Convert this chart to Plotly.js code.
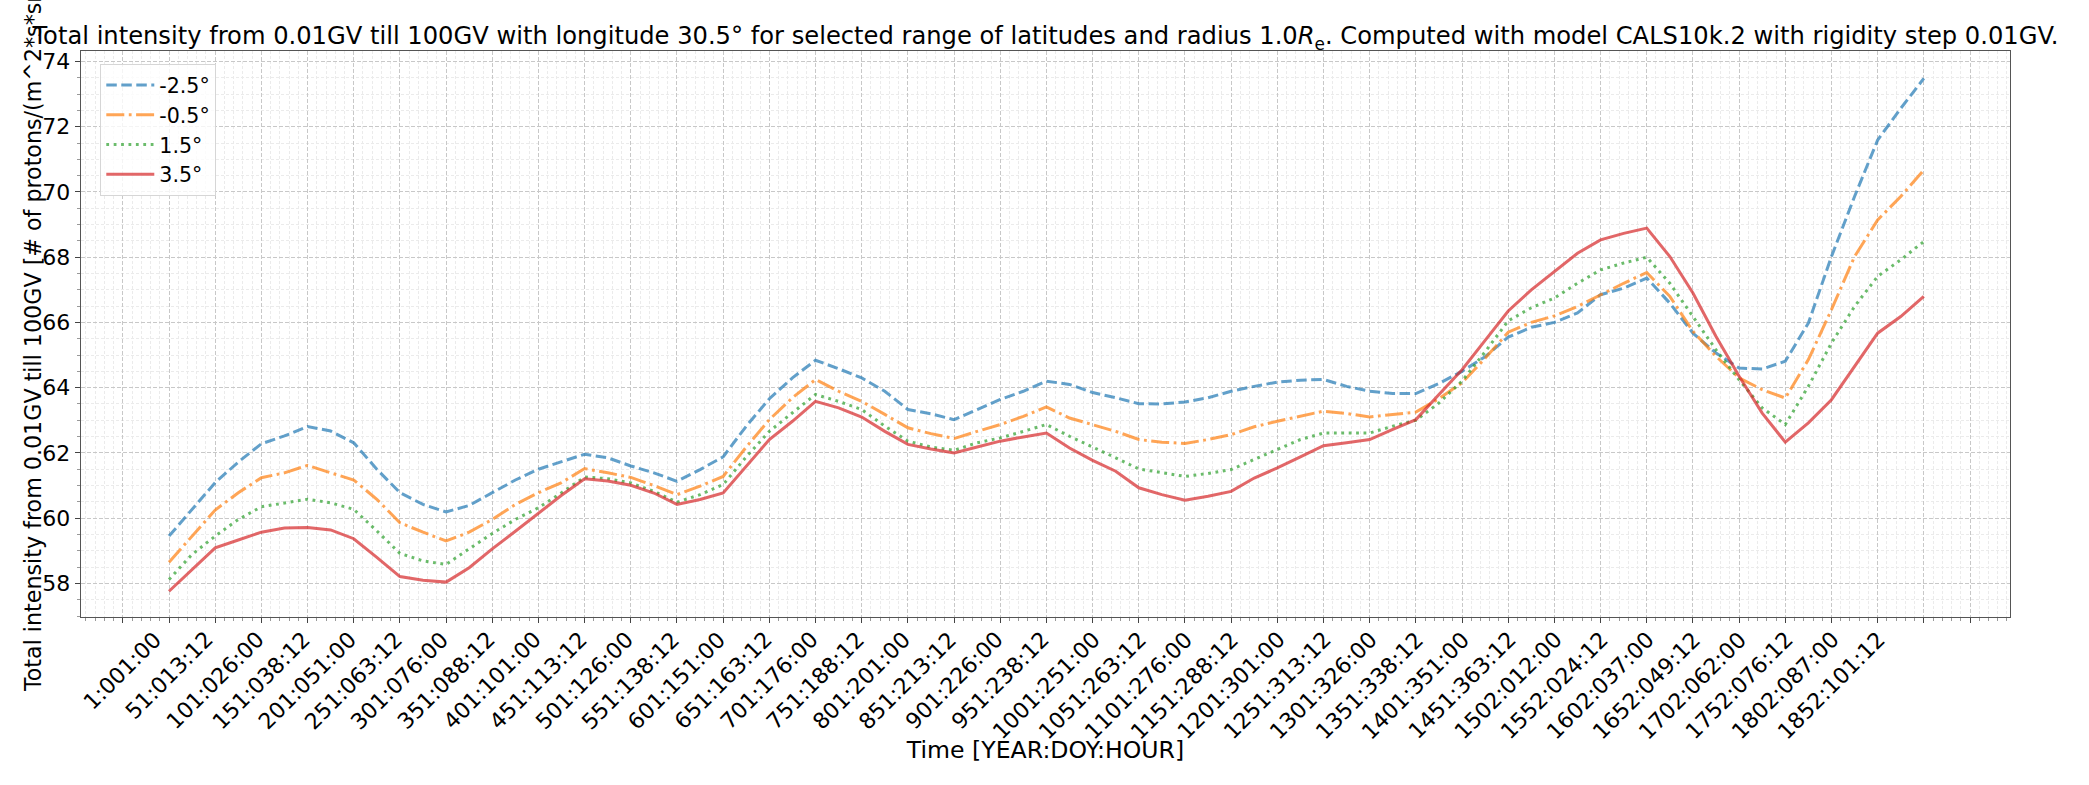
<!DOCTYPE html>
<html>
<head>
<meta charset="utf-8">
<script src="https://cdn.plot.ly/plotly-3.0.1.min.js"></script>
<style>html,body{margin:0;padding:0;background:#fff;}#chart{width:2089px;height:785px;}</style>
</head>
<body>
<div id="chart"></div>
<script>
// Sample positions (time-step index)
const sampleIndex = [50,75,100,125,150,175,200,225,250,275,300,325,350,375,400,425,450,475,500,525,550,575,600,625,650,675,700,725,750,775,800,825,850,875,900,925,950,975,1000,1025,1050,1075,1100,1125,1150,1175,1200,1225,1250,1275,1300,1325,1350,1375,1400,1425,1450,1475,1500,1525,1550,1575,1600,1625,1650,1675,1700,1725,1750,1775,1800,1825,1850,1875,1900,1925,1950];

const seriesNames = ["-2.5°", "-0.5°", "1.5°", "3.5°"];

const latMinus2_5 = [59.45,60.27,61.09,61.72,62.28,62.52,62.81,62.67,62.31,61.50,60.78,60.42,60.19,60.39,60.78,61.17,61.50,61.72,61.96,61.85,61.60,61.39,61.13,61.49,61.88,62.82,63.66,64.30,64.84,64.58,64.30,63.89,63.33,63.20,63.02,63.33,63.64,63.89,64.20,64.10,63.85,63.69,63.51,63.50,63.56,63.69,63.89,64.04,64.17,64.23,64.25,64.04,63.89,63.82,63.82,64.13,64.50,64.95,65.55,65.85,66.00,66.29,66.85,67.05,67.36,66.59,65.67,65.06,64.60,64.57,64.81,65.98,68.02,69.86,71.59,72.56,73.48];

const latMinus0_5 = [58.65,59.45,60.25,60.78,61.24,61.39,61.62,61.39,61.17,60.58,59.86,59.57,59.30,59.57,59.96,60.42,60.78,61.09,61.52,61.39,61.25,61.00,60.72,60.98,61.28,62.18,63.02,63.69,64.25,63.89,63.58,63.18,62.77,62.59,62.44,62.66,62.87,63.12,63.41,63.07,62.86,62.66,62.41,62.33,62.29,62.41,62.56,62.80,62.97,63.12,63.28,63.21,63.10,63.18,63.25,63.66,64.15,64.90,65.70,66.00,66.20,66.49,66.85,67.20,67.53,66.80,65.73,64.96,64.30,63.94,63.68,64.86,66.39,68.02,69.14,69.86,70.67];

const latPlus1_5 = [58.12,58.89,59.45,59.96,60.35,60.47,60.58,60.47,60.27,59.61,58.92,58.69,58.58,59.06,59.53,59.96,60.32,60.78,61.26,61.21,61.08,60.82,60.49,60.72,61.03,61.88,62.66,63.23,63.79,63.58,63.33,62.82,62.36,62.18,62.08,62.31,62.46,62.66,62.87,62.51,62.19,61.85,61.51,61.39,61.28,61.37,61.49,61.80,62.10,62.41,62.61,62.61,62.61,62.82,63.00,63.53,64.20,65.10,66.05,66.45,66.75,67.20,67.61,67.82,68.00,67.20,66.18,65.16,64.24,63.38,62.87,64.04,65.37,66.49,67.41,67.92,68.48];

const latPlus3_5 = [57.76,58.43,59.09,59.33,59.57,59.70,59.71,59.64,59.37,58.80,58.21,58.10,58.04,58.48,59.06,59.60,60.16,60.70,61.21,61.14,61.01,60.77,60.42,60.57,60.77,61.59,62.41,62.97,63.58,63.38,63.10,62.66,62.26,62.12,62.00,62.18,62.36,62.49,62.61,62.15,61.77,61.44,60.93,60.72,60.55,60.67,60.82,61.23,61.54,61.88,62.22,62.31,62.41,62.72,63.02,63.79,64.55,65.45,66.35,67.00,67.55,68.12,68.53,68.73,68.89,68.02,66.90,65.57,64.35,63.22,62.33,62.92,63.63,64.65,65.67,66.18,66.80];

const tickPositions = [0,50,100,150,200,250,300,350,400,450,500,550,600,650,700,750,800,850,900,950,1000,1050,1100,1150,1200,1250,1300,1350,1400,1450,1500,1550,1600,1650,1700,1750,1800,1850];
const tickLabels = ["1:001:00","51:013:12","101:026:00","151:038:12","201:051:00","251:063:12","301:076:00","351:088:12","401:101:00","451:113:12","501:126:00","551:138:12","601:151:00","651:163:12","701:176:00","751:188:12","801:201:00","851:213:12","901:226:00","951:238:12","1001:251:00","1051:263:12","1101:276:00","1151:288:12","1201:301:00","1251:313:12","1301:326:00","1351:338:12","1401:351:00","1451:363:12","1502:012:00","1552:024:12","1602:037:00","1652:049:12","1702:062:00","1752:076:12","1802:087:00","1852:101:12"];

const FONT = "DejaVu Sans, Verdana, sans-serif";
const TICK_FS = 22;
const XLABEL_FS = 23.6;
const YLABEL_FS = 22.2;
const TITLE_FS = 24.2;
const LEGEND_FS = 20.6;

const styles = [
  {color: "#1f77b4", dash: "10.5px,4.5px"},
  {color: "#ff7f0e", dash: "18px,4.5px,2.8px,4.5px"},
  {color: "#2ca02c", dash: "2.8px,4.6px"},
  {color: "#d62728", dash: "solid"}
];
const allSeries = [latMinus2_5, latMinus0_5, latPlus1_5, latPlus3_5];

const traces = allSeries.map((ys, i) => ({
  type: "scatter",
  mode: "lines",
  x: sampleIndex,
  y: ys,
  name: seriesNames[i],
  legendgroup: "g" + i,
  opacity: 0.7,
  line: {color: styles[i].color, width: 3, dash: styles[i].dash}
}));

const annotations = tickLabels.map((t, i) => ({
  text: t,
  xref: "x", x: tickPositions[i],
  yref: "paper", y: 0,
  xanchor: "center", yanchor: "top",
  yshift: -7,
  textangle: -45,
  showarrow: false,
  font: {family: FONT, size: TICK_FS, color: "#000"}
}));

// y-axis label (matplotlib-style: centred on the axes, 48 px left of the spine)
annotations.push({
  text: "Total intensity from 0.01GV till 100GV [# of protons/(m^2*s*sr)]",
  xref: "paper", x: 0, xanchor: "center", xshift: -48,
  yref: "paper", y: 0.5, yanchor: "middle",
  textangle: -90, showarrow: false,
  font: {family: FONT, size: YLABEL_FS, color: "#000"}
});

const layout = {
  width: 2089, height: 785,
  margin: {l: 81, r: 79, t: 51, b: 168, pad: 0},
  paper_bgcolor: "#fff", plot_bgcolor: "#fff",
  font: {family: FONT, size: TICK_FS, color: "#000"},
  showlegend: true,
  title: {
    text: "Total intensity from 0.01GV till 100GV with longitude 30.5° for selected range of latitudes and radius 1.0<i>R</i><sub>e</sub>. Computed with model CALS10k.2 with rigidity step 0.01GV.",
    font: {family: FONT, size: TITLE_FS, color: "#000"},
    xref: "paper", x: 0.5, xanchor: "center",
    yref: "container", y: 1 - 36/785, yanchor: "middle"
  },
  xaxis: {
    range: [-45.3, 2043.3],
    tick0: 0, dtick: 50,
    showticklabels: false,
    ticks: "outside", ticklen: 5, tickwidth: 1, tickcolor: "#444",
    showline: true, mirror: true, linecolor: "#555", linewidth: 1.3,
    showgrid: true, gridcolor: "#c8c8c8", griddash: "4px,2px", gridwidth: 1,
    zeroline: false,
    minor: {dtick: 10, showgrid: true, gridcolor: "#ebebeb", griddash: "3px,2px", gridwidth: 1, ticks: "outside", ticklen: 2.5, tickcolor: "#999"},
    title: {text: "Time [YEAR:DOY:HOUR]", font: {family: FONT, size: XLABEL_FS, color: "#000"}, standoff: 119},
    automargin: false
  },
  yaxis: {
    range: [56.97, 74.32],
    tick0: 0, dtick: 2,
    ticks: "outside", ticklen: 5, tickwidth: 1, tickcolor: "#444",
    tickfont: {family: FONT, size: TICK_FS, color: "#000"},
    showline: true, mirror: true, linecolor: "#555", linewidth: 1.3,
    showgrid: true, gridcolor: "#c8c8c8", griddash: "4px,2px", gridwidth: 1,
    zeroline: false,
    minor: {dtick: 0.5, showgrid: true, gridcolor: "#ebebeb", griddash: "3px,2px", gridwidth: 1, ticks: "outside", ticklen: 2.5, tickcolor: "#999"},
    automargin: false
  },
  legend: {
    x: 0.01, y: 0.977, xanchor: "left", yanchor: "top",
    bgcolor: "rgba(255,255,255,0.8)", bordercolor: "#d6d6d6", borderwidth: 1,
    font: {family: FONT, size: LEGEND_FS, color: "#000"},
    tracegroupgap: 0,
    itemwidth: 48
  },
  annotations: annotations
};

Plotly.newPlot("chart", traces, layout, {displayModeBar: false, staticPlot: true});
</script>
</body>
</html>
